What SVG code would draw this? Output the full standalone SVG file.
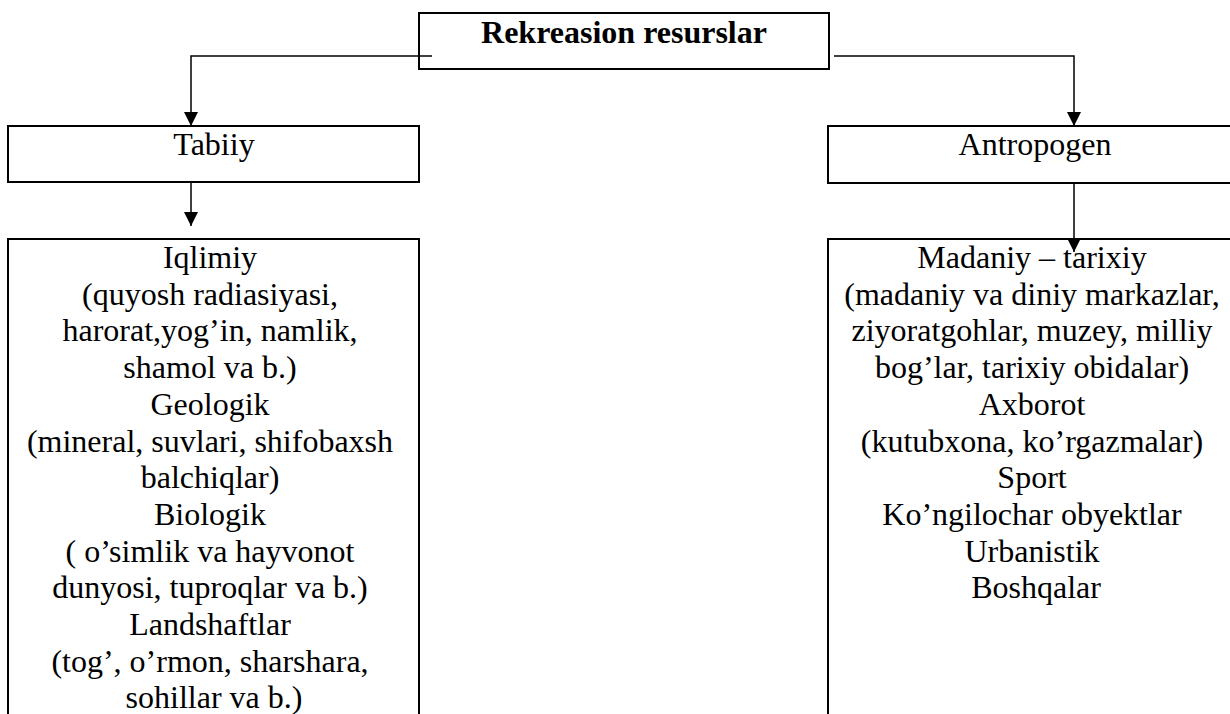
<svg xmlns="http://www.w3.org/2000/svg" width="1230" height="714" viewBox="0 0 1230 714">
<style>
.box{fill:#fff;stroke:#000;stroke-width:2}
.t{font-family:"Liberation Serif","Times New Roman",serif;font-size:32px;fill:#000;text-anchor:middle}
.b{font-weight:bold}
.c{fill:none;stroke:#000;stroke-width:1.5}
</style>
<defs>
<marker id="ah" markerUnits="userSpaceOnUse" markerWidth="14" markerHeight="14" refX="14" refY="7" orient="auto" viewBox="0 0 14 14">
<path d="M0,0 L14,7 L0,14 z" fill="#000"/>
</marker>
</defs>
<rect width="1230" height="714" fill="#fff"/>
<g id="root">
<rect class="box" x="419" y="13" width="410" height="56"/>
<text class="t b" x="624" y="43">Rekreasion resurslar</text>
</g>
<g id="tabiiy">
<rect class="box" x="8" y="126" width="411" height="56"/>
<text class="t" x="214" y="155">Tabiiy</text>
</g>
<g id="antropogen">
<rect class="box" x="828" y="126" width="420" height="57"/>
<text class="t" x="1035" y="155">Antropogen</text>
</g>
<g id="tabiiy-list">
<rect class="box" x="8" y="239" width="411" height="500"/>
<text class="t">
<tspan x="214" y="268">Iqlimiy</tspan>
<tspan x="214" y="304.7">(quyosh radiasiyasi,</tspan>
<tspan x="214" y="341.4">harorat,yog’in, namlik,</tspan>
<tspan x="214" y="378.1">shamol va b.)</tspan>
<tspan x="214" y="414.8">Geologik</tspan>
<tspan x="214" y="451.5">(mineral, suvlari, shifobaxsh</tspan>
<tspan x="214" y="488.2">balchiqlar)</tspan>
<tspan x="214" y="524.9">Biologik</tspan>
<tspan x="214" y="561.6">( o’simlik va hayvonot</tspan>
<tspan x="214" y="598.3">dunyosi, tuproqlar va b.)</tspan>
<tspan x="214" y="635">Landshaftlar</tspan>
<tspan x="214" y="671.7">(tog’, o’rmon, sharshara,</tspan>
<tspan x="214" y="708.4">sohillar va b.)</tspan>
</text>
</g>
<g id="antropogen-list">
<rect class="box" x="828" y="239" width="420" height="500"/>
<text class="t">
<tspan x="1036" y="268">Madaniy – tarixiy</tspan>
<tspan x="1036" y="304.7">(madaniy va diniy markazlar,</tspan>
<tspan x="1036" y="341.4">ziyoratgohlar, muzey, milliy</tspan>
<tspan x="1036" y="378.1">bog’lar, tarixiy obidalar)</tspan>
<tspan x="1036" y="414.8">Axborot</tspan>
<tspan x="1036" y="451.5">(kutubxona, ko’rgazmalar)</tspan>
<tspan x="1036" y="488.2">Sport</tspan>
<tspan x="1036" y="524.9">Ko’ngilochar obyektlar</tspan>
<tspan x="1036" y="561.6">Urbanistik</tspan>
<tspan x="1036" y="598.3">Boshqalar</tspan>
</text>
</g>
<g id="connectors">
<polyline class="c" points="432,56 191,56 191,126" marker-end="url(#ah)"/>
<polyline class="c" points="834,56 1074,56 1074,126" marker-end="url(#ah)"/>
<line class="c" x1="191" y1="182" x2="191" y2="226" marker-end="url(#ah)"/>
<line class="c" x1="1074" y1="183" x2="1074" y2="252" marker-end="url(#ah)"/>
</g>
</svg>
